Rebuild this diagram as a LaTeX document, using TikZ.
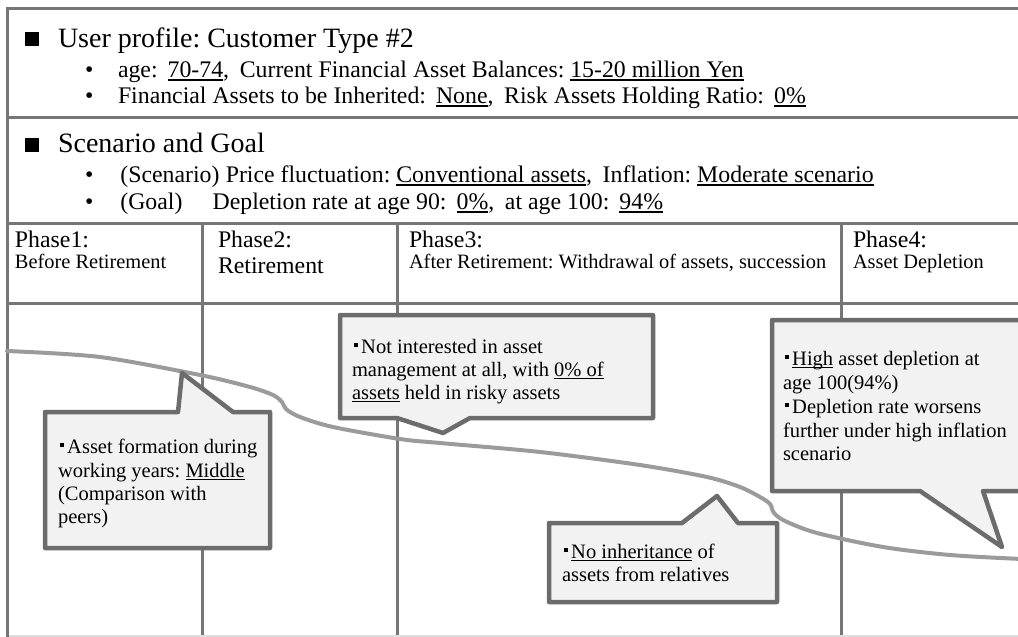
\documentclass[tikz,border=0pt]{standalone}
\usepackage{fontspec}
\setmainfont{Liberation Serif}
\definecolor{gridc}{RGB}{118,118,118}
\definecolor{curvec}{RGB}{155,155,155}
\definecolor{callc}{RGB}{108,108,108}
\definecolor{callfill}{RGB}{242,242,242}
\definecolor{lightc}{RGB}{222,222,222}
\newcommand\myul[1]{\setbox0\hbox{#1}\rlap{\rule[-0.16em]{\wd0}{0.065em}}\box0\relax}
\newcommand\fwc{\makebox[0.7em][l]{:}}
\newcommand\fwcomma{\makebox[0.7em][l]{,}}
\newcommand\fwlp{\makebox[0.6em][r]{(}}
\newcommand\fwrp{\makebox[0.6em][l]{)}}
\newcommand\sqb{\makebox[0.45em][l]{\hspace{0.08em}\rule[0.28em]{0.2em}{0.2em}}}
\AtBeginDocument{\frenchspacing}
\tikzset{
  gridline/.style={draw=gridc, line width=3pt},
  curveline/.style={draw=curvec, line width=4pt, line cap=round},
  callbox/.style={draw=callc, fill=callfill, line width=4.5pt, line join=round},
  txt/.style={anchor=base west, inner sep=0pt, outer sep=0pt},
  titletxt/.style={txt, font=\fontsize{28}{34}\selectfont},
  bodytxt/.style={txt, font=\fontsize{23.8}{28}\selectfont},
  smalltxt/.style={txt, font=\fontsize{20.4}{24}\selectfont},
  calltxt/.style={txt, font=\fontsize{20.5}{24}\selectfont},
  sqmark/.style={fill=black},
}
\begin{document}
\begin{tikzpicture}[x=1pt,y=-1pt]
\useasboundingbox (0,0) rectangle (1018,637);
% grid
\draw[gridline] (1020,8) -- (7,8) -- (7,637);
\draw[gridline] (7,117) -- (1020,117);
\draw[gridline] (7,223) -- (1020,223);
\draw[gridline] (7,303) -- (1020,303);
\draw[gridline] (202,223) -- (202,637);
\draw[gridline] (397,223) -- (397,637);
\draw[gridline] (841,223) -- (841,637);
\draw[draw=lightc, line width=1.5pt] (9,636) -- (1018,636);
% header 1
\fill[sqmark] (25,32) rectangle (39,46);
\node[titletxt] (t1) at (58,47) {User profile: Customer Type \#2};
\node[bodytxt] (b1) at (85,77) {•};
\node[bodytxt] (l1) at (118,77) {age\fwc\myul{70-74}\fwcomma Current Financial Asset Balances: \myul{15-20 million Yen}};
\node[bodytxt] (b2) at (85,103) {•};
\node[bodytxt] (l2) at (118,103) {Financial Assets to be Inherited\fwc\myul{None}\fwcomma Risk Assets Holding Ratio\fwc\myul{0\%}};
% header 2
\fill[sqmark] (25,138) rectangle (39,152);
\node[titletxt] (t2) at (58,152) {Scenario and Goal};
\node[bodytxt] (b3) at (85,182) {•};
\node[bodytxt] (l3) at (114,182) {\fwlp Scenario\fwrp Price fluctuation:\hspace{0.25em}\myul{Conventional assets}\fwcomma Inflation:\hspace{0.25em}\myul{Moderate scenario}};
\node[bodytxt] (b4) at (85,209) {•};
\node[bodytxt] (l4) at (114,209) {\fwlp Goal\fwrp\hspace{1em}Depletion rate at age 90\fwc\myul{0\%}\fwcomma at age 100\fwc\myul{94\%}};
% phases
\node[bodytxt] (p1) at (15,247) {Phase1:};
\node[smalltxt] (p1b) at (15,268) {Before Retirement};
\node[bodytxt] (p2) at (218,247) {Phase2:};
\node[bodytxt] (p2b) at (218,273) {Retirement};
\node[bodytxt] (p3) at (409,247) {Phase3:};
\node[smalltxt] (p3b) at (409,268) {After Retirement: Withdrawal of assets, succession};
\node[bodytxt] (p4) at (853,247) {Phase4:};
\node[smalltxt] (p4b) at (853,268) {Asset Depletion};
% curve
\draw[curveline] plot[smooth, tension=0.5] coordinates {(7,351) (100,357) (200,375) (250,387) (273,395) (282,402) (286,409) (300,417) (333,427) (400,439) (440,443) (540,452) (640,465) (707,477) (740,487) (760,497) (770,504) (774,513) (785,521) (817,533) (883,547) (950,555) (1022,559)};
% callouts
\draw[callbox] (45,412) -- (178,412) -- (182,373) -- (233,412) -- (270,412) -- (270,548) -- (45,548) -- cycle;
\draw[callbox] (340,315) -- (653,315) -- (653,418) -- (470,418) -- (443,433) -- (397,418) -- (340,418) -- cycle;
\draw[callbox] (772,320) -- (1030,320) -- (1030,491) -- (983,491) -- (1002,547) -- (920,491) -- (772,491) -- cycle;
\draw[callbox] (549,523) -- (682,523) -- (717,496) -- (738,523) -- (777,523) -- (777,602) -- (549,602) -- cycle;
% callout texts
\node[calltxt] (c1a) at (58,453) {\sqb Asset formation during};
\node[calltxt] (c1b) at (58,477) {working years: \myul{Middle}};
\node[calltxt] (c1c) at (58,500) {(Comparison with};
\node[calltxt] (c1d) at (58,523) {peers)};
\node[calltxt] (c2a) at (352,353) {\sqb Not interested in asset};
\node[calltxt] (c2b) at (352,376) {management at all, with \myul{0\% of}};
\node[calltxt] (c2c) at (352,399) {\myul{assets} held in risky assets};
\node[calltxt] (c3a) at (783,365) {\sqb\myul{High} asset depletion at};
\node[calltxt] (c3b) at (783,389) {age 100(94\%)};
\node[calltxt] (c3c) at (783,413) {\sqb Depletion rate worsens};
\node[calltxt] (c3d) at (783,437) {further under high inflation};
\node[calltxt] (c3e) at (783,460) {scenario};
\node[calltxt] (c4a) at (562,558) {\sqb\myul{No inheritance} of};
\node[calltxt] (c4b) at (562,581) {assets from relatives};
\end{tikzpicture}
\end{document}
